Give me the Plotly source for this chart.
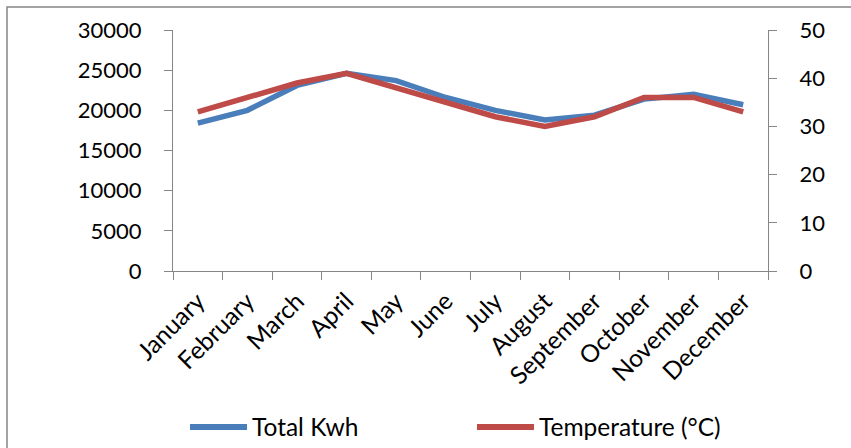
import plotly.graph_objects as go

# Monthly energy use and temperature
months = ["January", "February", "March", "April", "May", "June",
          "July", "August", "September", "October", "November", "December"]
total_kwh = [18400, 20000, 23100, 24600, 23700, 21600,
             20000, 18800, 19400, 21400, 22000, 20700]
temperature_c = [33, 36, 39, 41, 38, 35, 32, 30, 32, 36, 36, 33]
series_names = ["Total Kwh", "Temperature (°C)"]

BLUE = "#4A7EBB"
RED = "#BE4B48"
AXIS_GRAY = "#868686"
FAMILY = "Lato, Open Sans, sans-serif"
TICK_FONT = dict(family=FAMILY, size=22, color="black")
CAT_FONT = dict(family=FAMILY, size=24.5, color="black")
LEGEND_FONT = dict(family=FAMILY, size=24.5, color="black")

fig = go.Figure()
fig.add_trace(go.Scatter(x=months, y=total_kwh, name=series_names[0],
                         mode="lines", line=dict(color=BLUE, width=5.5),
                         showlegend=False))
fig.add_trace(go.Scatter(x=months, y=temperature_c, name=series_names[1],
                         mode="lines", line=dict(color=RED, width=5.5),
                         yaxis="y2", showlegend=False))

axis_common = dict(showgrid=False, showline=True, linecolor=AXIS_GRAY,
                   linewidth=1.3, ticks="outside", ticklen=8,
                   tickcolor=AXIS_GRAY, tickwidth=1.3, zeroline=False)

fig.update_layout(
    width=851, height=448,
    margin=dict(l=173, r=83, t=30, b=177),
    paper_bgcolor="white", plot_bgcolor="white",
    font=TICK_FONT,
    showlegend=False,
    xaxis=dict(type="category", tickangle=-45, tickson="boundaries",
               range=[-0.5, 11.5], ticklabelstandoff=5, tickfont=CAT_FONT,
               **axis_common),
    yaxis=dict(range=[0, 30000], dtick=5000, tickformat="d",
               ticklabelstandoff=18, tickfont=TICK_FONT, **axis_common),
    yaxis2=dict(range=[0, 50], dtick=10, overlaying="y", side="right",
                tickformat="d", ticklabelstandoff=18, tickfont=TICK_FONT,
                **axis_common),
)

# Legend below the plot: colour swatch line followed by the series name
legend_y = -0.647
legend_items = [(series_names[0], BLUE, 0.0286), (series_names[1], RED, 0.5109)]
for name, color, x0 in legend_items:
    fig.add_shape(type="line", xref="paper", yref="paper",
                  x0=x0, x1=x0 + 0.0958, y0=legend_y, y1=legend_y,
                  line=dict(color=color, width=6))
    fig.add_annotation(xref="paper", yref="paper", x=x0 + 0.1008, y=legend_y,
                       text=name, showarrow=False, xanchor="left",
                       yanchor="middle", font=LEGEND_FONT)

# Chart-area border
fig.add_shape(type="rect", xref="paper", yref="paper",
              x0=-0.279, x1=1.2, y0=-1.0, y1=1.0954,
              line=dict(color=AXIS_GRAY, width=1.5), fillcolor="rgba(0,0,0,0)",
              layer="below")

fig.write_html("out.html")
